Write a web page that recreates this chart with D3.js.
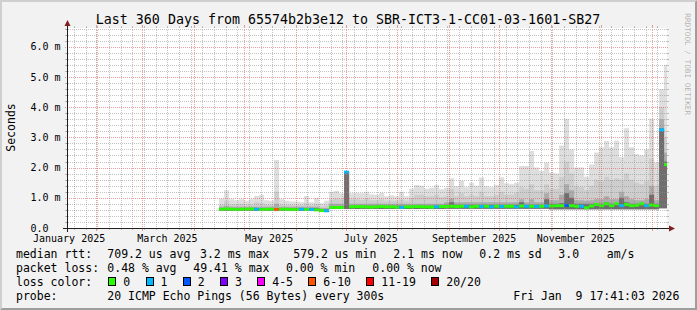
<!DOCTYPE html>
<html>
<head>
<meta charset="utf-8">
<script src="https://cdn.jsdelivr.net/npm/d3@7"></script>
<style>
  body { margin: 0; background: #f2f2f2; }
  svg { display: block; }
  text { font-family: "DejaVu Sans Mono", monospace; white-space: pre; }
</style>
</head>
<body>
<svg id="chart" width="697" height="310"></svg>
<script>
// Bins of 3 days starting 16 Apr 2025 (values in ms)
const binStart = new Date(Date.UTC(2025, 3, 16));
const binDays = 3;

const medianMs = [
  0.62,0.63,0.62,0.61,0.62,0.62,0.63,0.62,0.61,0.62,0.62,0.61,0.62,0.62,0.61,0.61,0.62,0.61,0.61,0.60,
  0.58,0.57,0.68,0.68,0.68,1.85,
  0.70,0.71,0.70,0.70,0.69,0.70,0.71,0.70,0.70,0.69,0.68,0.70,0.70,0.71,0.70,0.70,0.69,0.70,0.71,
  0.71,0.72,0.71,0.72,0.72,0.70,0.72,0.71,0.72,0.70,0.72,0.71,0.72,0.72,0.70,0.73,0.72,0.72,0.71,0.72,0.73,
  0.73,0.74,0.74,0.75,0.74,0.72,0.72,0.67,0.73,0.78,0.74,0.80,0.74,0.80,0.74,0.78,0.74,0.75,0.80,0.74,0.76,0.74,
  3.25,2.10
];
const lowMs = [
  0.57,0.57,0.57,0.57,0.57,0.57,0.57,0.57,0.57,0.57,0.57,0.57,0.57,0.57,0.57,0.57,0.57,0.57,0.57,0.57,
  0.53,0.53,
  0.63,0.63,0.63,0.63,0.63,0.63,0.63,0.63,0.63,0.63,0.63,0.63,0.63,0.63,0.63,0.63,0.63,0.63,0.63,0.63,0.63,0.63,0.63,
  0.64,0.64,0.64,0.64,0.64,0.64,0.64,0.64,0.64,0.64,0.64,0.64,0.64,0.64,0.64,0.64,0.64,0.64,0.64,0.64,0.64,
  0.62,0.62,0.62,0.62,0.62,0.62,0.62,0.62,0.62,0.62,0.62,0.62,0.62,0.62,0.62,0.62,0.62,0.62,0.62,0.62,0.62,0.62,
  0.65,0.65
];
const p60Ms = [
  0.65,0.65,0.65,0.65,0.65,0.65,0.65,0.65,0.65,0.65,0.65,0.65,0.65,0.65,0.65,0.65,0.65,0.65,0.65,0.65,
  0.61,0.61,0.73,0.73,0.73,1.85,
  0.74,0.74,0.74,0.74,0.74,0.74,0.74,0.74,0.74,0.74,0.74,0.74,0.74,0.74,0.74,0.74,0.74,0.74,0.74,
  0.77,0.85,0.77,0.77,0.77,0.77,0.77,0.77,0.77,0.77,0.77,0.77,0.77,0.77,0.77,0.85,0.77,0.77,0.77,0.77,0.95,
  0.80,0.80,0.82,1.15,1.00,0.80,0.80,0.80,0.80,0.80,0.80,0.85,0.80,0.80,1.00,0.85,0.80,0.80,0.80,0.80,1.10,0.80,
  3.30,2.20
];
const p75Ms = [
  0.70,0.74,0.70,0.70,0.70,0.70,0.70,0.70,0.70,0.70,0.70,0.80,0.70,0.70,0.70,0.70,0.70,0.70,0.70,0.70,
  0.66,0.66,0.80,0.80,0.80,1.86,
  0.80,0.80,0.80,0.80,0.80,0.80,0.80,0.80,0.80,0.80,0.80,0.80,0.80,0.80,0.80,0.80,0.80,0.80,0.80,
  0.85,0.98,0.85,0.85,0.85,0.85,0.85,0.85,0.85,0.85,0.85,0.85,0.85,0.85,0.85,0.95,0.85,0.95,0.85,0.85,1.15,
  0.92,0.92,1.10,1.45,1.25,0.92,0.92,0.90,0.92,0.95,0.95,1.05,0.95,0.95,1.20,1.05,0.95,0.92,0.92,0.95,1.40,0.92,
  3.60,2.50
];
const p90Ms = [
  0.78,0.90,0.78,0.78,0.80,0.78,0.78,0.85,0.82,0.78,0.78,1.20,0.78,0.77,0.76,0.76,0.75,0.82,0.75,0.80,
  0.72,0.75,0.95,0.98,0.95,1.87,
  0.95,0.95,0.93,0.97,0.92,0.92,0.95,0.90,0.90,0.90,0.95,0.90,1.00,1.10,1.10,1.05,1.05,1.10,1.02,
  1.05,1.30,1.05,1.15,1.05,1.10,1.05,1.20,1.05,1.05,1.10,1.20,1.10,1.10,1.15,1.35,1.30,1.45,1.25,1.25,1.45,
  1.30,1.30,1.70,2.20,1.80,1.40,1.35,1.25,1.40,1.60,1.55,1.70,1.60,1.65,1.60,1.80,1.60,1.50,1.45,1.55,2.30,1.40,
  4.00,3.00
];
const maxMs = [
  0.97,1.25,0.95,0.92,0.95,0.90,0.95,1.06,1.10,0.92,0.90,2.25,0.95,0.90,0.88,0.88,0.85,1.06,0.85,1.00,
  0.82,0.90,1.20,1.23,1.15,1.87,
  1.15,1.17,1.15,1.20,1.12,1.10,1.17,1.05,1.08,1.05,1.20,1.05,1.30,1.42,1.40,1.30,1.33,1.42,1.28,
  1.33,1.65,1.38,1.56,1.35,1.50,1.40,1.67,1.38,1.35,1.42,1.68,1.48,1.45,1.50,2.05,2.05,2.55,2.00,1.89,2.17,
  1.84,1.80,2.73,3.62,2.60,2.00,2.00,1.70,2.10,2.50,2.67,2.88,2.67,2.89,2.34,3.30,2.67,2.45,2.40,2.60,3.62,2.17,
  4.60,5.40
];
// index into lossLabels
const lossIdx = [
  0,0,0,0,0,0,0,1,0,0, 0,5,0,0,0,0,1,0,1,0,
  0,1,0,0,0,1,0,0,0,0, 0,0,0,0,0,0,1,0,0,0,
  0,0,0,1,0,0,0,0,0,1, 0,0,1,0,1,0,1,0,0,1,
  0,1,0,1,0,1,0,0,0,2, 0,0,1,0,0,0,0,0,0,0,
  1,0,0,0,0,1,0,0,1,0
];

const lossLabels = ["0", "1", "2", "3", "4-5", "6-10", "11-19", "20/20"];
const lossColors = ["#26ff00", "#00b8ff", "#0059ff", "#7e00ff", "#ff00ff", "#ff5500", "#ff0000", "#a10000"];

const title = "Last 360 Days from 65574b2b3e12 to SBR-ICT3-1-CC01-03-1601-SB27";
const rttStats = ["709.2 us avg", "3.2 ms max", "579.2 us min", "2.1 ms now", "0.2 ms sd", "3.0    am/s"];
const lossStats = ["0.48 % avg", "49.41 % max", "0.00 % min", "0.00 % now"];
const probeText = "20 ICMP Echo Pings (56 Bytes) every 300s";
const stampText = "Fri Jan  9 17:41:03 2026";
const yMax = 6.62;

// layout
const W = 697, H = 310;
const X0 = 67, X1 = 667, Y0 = 228, Y1 = 28;
const rttX = [107.3, 200, 293.3, 393.3, 479.3, 558.3];
const lossX = [107.3, 193.3, 286, 372.3];

const svg = d3.select('#chart');

const tEnd = new Date(Date.UTC(2026, 0, 9, 17, 41, 3));
const tStart = new Date(+tEnd - 360 * 864e5);
const x = d3.scaleUtc().domain([tStart, tEnd]).range([X0, X1]);
const y = d3.scaleLinear().domain([0, yMax]).range([Y0, Y1]);
const px = v => Math.round(v) + 0.5;

// background + 3d frame
svg.append('rect').attr('width', W).attr('height', H).attr('fill', '#f2f2f2');
svg.append('polygon')
  .attr('points', `0,${H} 2,${H - 2} 2,2 ${W - 2},2 ${W},0 0,0`)
  .attr('fill', '#cfcfcf');
svg.append('polygon')
  .attr('points', `2,${H - 2} ${W - 2},${H - 2} ${W - 2},2 ${W},0 ${W},${H} 0,${H}`)
  .attr('fill', '#9e9e9e');

svg.append('rect').attr('x', X0).attr('y', Y1).attr('width', X1 - X0).attr('height', Y0 - Y1).attr('fill', '#fff');

svg.append('clipPath').attr('id', 'plot')
  .append('rect').attr('x', X0).attr('y', Y1).attr('width', X1 - X0).attr('height', Y0 - Y1);

// step data
const bins = medianMs.map((m, i) => {
  const t0 = d3.utcDay.offset(binStart, i * binDays);
  const t1 = d3.min([d3.utcDay.offset(t0, binDays), tEnd]);
  return { t0, t1, med: m, lo: lowMs[i], p60: p60Ms[i], p75: p75Ms[i], p90: p90Ms[i], max: maxMs[i], loss: lossIdx[i] };
});
const steps = bins.flatMap(b => [{ ...b, t: b.t0 }, { ...b, t: b.t1 }]);

const g = svg.append('g').attr('clip-path', 'url(#plot)');

// smoke
const layers = [['max', '#dedede'], ['p90', '#cdcdcd'], ['p75', '#ababab'], ['p60', '#6e6e6e']];
layers.forEach(([key, color]) => {
  const area = d3.area()
    .x(d => x(d.t))
    .y0(d => y(d.lo))
    .y1(d => y(d[key]));
  g.append('path').datum(steps).attr('d', area).attr('fill', color);
});

// median coloured by loss
g.selectAll('line.med')
  .data(bins)
  .join('line')
  .attr('class', 'med')
  .attr('x1', d => x(d.t0))
  .attr('x2', d => x(d.t1))
  .attr('y1', d => y(d.med))
  .attr('y2', d => y(d.med))
  .attr('stroke', d => lossColors[d.loss])
  .attr('stroke-width', 3);

// grid
const gridMinor = 'rgba(143,143,143,0.55)';
const gridMajor = 'rgba(222,79,79,0.55)';
const grid = svg.append('g').attr('fill', 'none').attr('stroke-width', 1);

const yMinor = d3.range(1, Math.floor(yMax / 0.2 + 1e-9) + 1).filter(k => k % 5 !== 0).map(k => k * 0.2);
const yMajor = d3.range(1, Math.floor(yMax) + 1);
const months = d3.utcMonth.range(tStart, tEnd);
const weeks = d3.utcSunday.range(tStart, tEnd).filter(t => t.getUTCDate() !== 1);

yMinor.forEach(v => {
  const yy = px(y(v));
  grid.append('line').attr('x1', X0 - 1).attr('x2', X1 + 1).attr('y1', yy).attr('y2', yy)
    .attr('stroke', gridMinor).attr('stroke-dasharray', '1,1');
  grid.append('line').attr('x1', X0 - 2).attr('x2', X0).attr('y1', yy).attr('y2', yy).attr('stroke', gridMinor);
  grid.append('line').attr('x1', X1).attr('x2', X1 + 2).attr('y1', yy).attr('y2', yy).attr('stroke', gridMinor);
});
weeks.forEach(t => {
  const xx = px(x(t));
  grid.append('line').attr('x1', xx).attr('x2', xx).attr('y1', Y0 - 1).attr('y2', Y1 + 1)
    .attr('stroke', gridMinor).attr('stroke-dasharray', '1,1');
  grid.append('line').attr('x1', xx).attr('x2', xx).attr('y1', Y0).attr('y2', Y0 + 2).attr('stroke', gridMinor);
  grid.append('line').attr('x1', xx).attr('x2', xx).attr('y1', Y1 - 2).attr('y2', Y1).attr('stroke', gridMinor);
});
yMajor.forEach(v => {
  const yy = px(y(v));
  grid.append('line').attr('x1', X0 - 2).attr('x2', X1 + 2).attr('y1', yy).attr('y2', yy)
    .attr('stroke', gridMajor).attr('stroke-dasharray', '1,1');
});
months.forEach(t => {
  const xx = px(x(t));
  grid.append('line').attr('x1', xx).attr('x2', xx).attr('y1', Y0 - 1).attr('y2', Y1 + 1)
    .attr('stroke', gridMajor).attr('stroke-dasharray', '1,1');
  grid.append('line').attr('x1', xx).attr('x2', xx).attr('y1', Y0).attr('y2', Y0 + 3).attr('stroke', gridMajor);
  grid.append('line').attr('x1', xx).attr('x2', xx).attr('y1', Y1 - 3).attr('y2', Y1).attr('stroke', gridMajor);
});

// axes + arrows
svg.append('line').attr('x1', X0 - 4).attr('x2', X1 + 4).attr('y1', Y0 + 0.5).attr('y2', Y0 + 0.5)
  .attr('stroke', '#1f1f1f');
svg.append('line').attr('x1', X0 + 0.5).attr('x2', X0 + 0.5).attr('y1', Y0 + 4).attr('y2', Y1 - 4)
  .attr('stroke', '#1f1f1f');
svg.append('polygon').attr('points', `${X1 + 2},${Y0 - 2.5} ${X1 + 2},${Y0 + 3.5} ${X1 + 8},${Y0 + 0.5}`)
  .attr('fill', '#7f1f1f');
svg.append('polygon').attr('points', `${X0 - 2.5},${Y1 - 2} ${X0 + 3.5},${Y1 - 2} ${X0 + 0.5},${Y1 - 8}`)
  .attr('fill', '#7f1f1f');

// y labels
const fmtY = v => v === 0 ? '0.0' : v.toFixed(1) + ' m';
svg.append('g').selectAll('text')
  .data([0, ...yMajor])
  .join('text')
  .attr('x', 30.5)
  .attr('y', d => y(d))
  .attr('dy', '0.36em')
  .attr('font-size', 10)
  .text(fmtY);

// x labels: every 2nd month, centred mid-month
const fmtX = d3.utcFormat('%B %Y');
const labelMonths = d3.utcMonth.every(2).range(d3.utcMonth.floor(tStart), tEnd)
  .filter(t => d3.utcDay.offset(t, 15) <= tEnd);
svg.append('g').selectAll('text')
  .data(labelMonths)
  .join('text')
  .attr('x', d => x(d3.utcDay.offset(d, 15)))
  .attr('y', 242)
  .attr('text-anchor', 'middle')
  .attr('font-size', 10)
  .text(fmtX);

// unit label
svg.append('text')
  .attr('transform', 'translate(14.5,127.5) rotate(-90)')
  .attr('text-anchor', 'middle')
  .attr('font-size', 11.5)
  .text('Seconds');

// title
svg.append('text')
  .attr('x', 348).attr('y', 23.5)
  .attr('text-anchor', 'middle')
  .attr('font-size', 13.3)
  .text(title);

// watermark
svg.append('text')
  .attr('transform', 'translate(685,13.3) rotate(90)')
  .attr('font-size', 7.7)
  .attr('fill', '#000').attr('fill-opacity', 0.3)
  .text('RRDTOOL / TOBI OETIKER');

// legend
const lg = svg.append('g').attr('font-size', 11.5);
lg.append('text').attr('x', 16).attr('y', 258).text('median rtt:');
rttStats.forEach((s, i) => lg.append('text').attr('x', rttX[i]).attr('y', 258).text(s));
lg.append('text').attr('x', 16).attr('y', 272).text('packet loss:');
lossStats.forEach((s, i) => lg.append('text').attr('x', lossX[i]).attr('y', 272).text(s));
lg.append('text').attr('x', 16).attr('y', 286).text('loss color:');
let bx = 108.3;
lossLabels.forEach((lab, i) => {
  lg.append('rect').attr('x', Math.round(bx) + 0.5).attr('y', 277.5).attr('width', 7).attr('height', 8)
    .attr('fill', lossColors[i]).attr('stroke', '#000');
  lg.append('text').attr('x', bx + 15).attr('y', 286).text(lab);
  bx += 30.3 + lab.length * 6.93;
});
lg.append('text').attr('x', 16).attr('y', 300).text('probe:');
lg.append('text').attr('x', 107.3).attr('y', 300).text(probeText);
lg.append('text').attr('x', 513.3).attr('y', 300).text(stampText);
</script>
</body>
</html>
